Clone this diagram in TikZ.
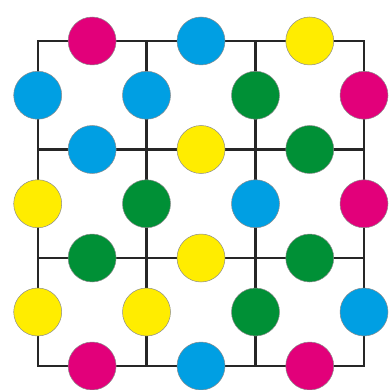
\documentclass[tikz,border=0pt]{standalone}
\usetikzlibrary{calc}
\definecolor{cmag}{HTML}{E2007A}
\definecolor{cblu}{HTML}{009FE3}
\definecolor{cyel}{HTML}{FFED00}
\definecolor{cgrn}{HTML}{009036}
\tikzset{
  gridline/.style={line width=2.2pt, draw=black!85, line cap=rect},
  dot/.style={circle, minimum size=48pt, inner sep=0pt, draw=black!45, line width=0.5pt},
  M/.style={dot, fill=cmag},
  B/.style={dot, fill=cblu},
  Y/.style={dot, fill=cyel},
  G/.style={dot, fill=cgrn}
}
\begin{document}
\begin{tikzpicture}[x=1pt,y=-1pt]
\useasboundingbox (0,0) rectangle (389,390);
\def\gx{{37.7,146.5,255.5,364}}
\def\gy{{41,149.5,258,366}}
\foreach \i in {0,1,2,3}{
  \foreach \j in {0,1,2,3}{
    \pgfmathsetmacro\xx{\gx[\i]}
    \pgfmathsetmacro\yy{\gy[\j]}
    \coordinate (g\i\j) at (\xx,\yy);
  }
}
% horizontal lines
\foreach \j in {0,1,2,3}{
  \draw[gridline] (g0\j) -- (g3\j);
}
% vertical lines
\foreach \i in {0,1,2,3}{
  \draw[gridline] (g\i0) -- (g\i3);
}
% horizontal-edge circles
\node[M] (h00) at ($(g00)!0.5!(g10)$) {};
\node[B] (h10) at ($(g10)!0.5!(g20)$) {};
\node[Y] (h20) at ($(g20)!0.5!(g30)$) {};
\node[B] (h01) at ($(g01)!0.5!(g11)$) {};
\node[Y] (h11) at ($(g11)!0.5!(g21)$) {};
\node[G] (h21) at ($(g21)!0.5!(g31)$) {};
\node[G] (h02) at ($(g02)!0.5!(g12)$) {};
\node[Y] (h12) at ($(g12)!0.5!(g22)$) {};
\node[G] (h22) at ($(g22)!0.5!(g32)$) {};
\node[M] (h03) at ($(g03)!0.5!(g13)$) {};
\node[B] (h13) at ($(g13)!0.5!(g23)$) {};
\node[M] (h23) at ($(g23)!0.5!(g33)$) {};
% vertical-edge circles
\node[B] (v00) at ($(g00)!0.5!(g01)$) {};
\node[B] (v10) at ($(g10)!0.5!(g11)$) {};
\node[G] (v20) at ($(g20)!0.5!(g21)$) {};
\node[M] (v30) at ($(g30)!0.5!(g31)$) {};
\node[Y] (v01) at ($(g01)!0.5!(g02)$) {};
\node[G] (v11) at ($(g11)!0.5!(g12)$) {};
\node[B] (v21) at ($(g21)!0.5!(g22)$) {};
\node[M] (v31) at ($(g31)!0.5!(g32)$) {};
\node[Y] (v02) at ($(g02)!0.5!(g03)$) {};
\node[Y] (v12) at ($(g12)!0.5!(g13)$) {};
\node[G] (v22) at ($(g22)!0.5!(g23)$) {};
\node[B] (v32) at ($(g32)!0.5!(g33)$) {};
\end{tikzpicture}
\end{document}
